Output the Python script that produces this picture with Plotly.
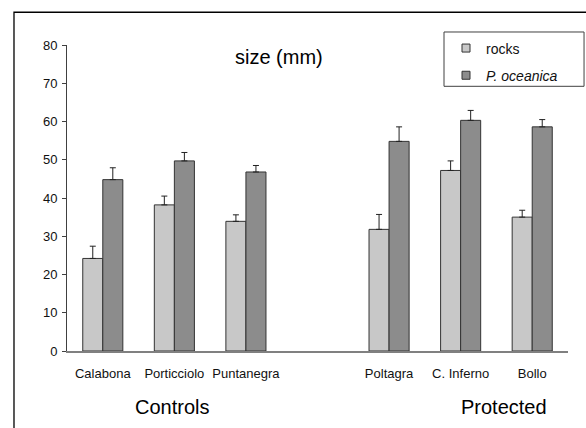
import plotly.graph_objects as go

categories = ["Calabona", "Porticciolo", "Puntanegra", " ", "Poltagra", "C. Inferno", "Bollo"]
rocks = [24.2, 38.2, 33.9, None, 31.8, 47.2, 35.0]
rocks_err = [3.2, 2.3, 1.7, None, 3.9, 2.5, 1.8]
posidonia = [44.8, 49.7, 46.8, None, 54.8, 60.3, 58.6]
posidonia_err = [3.1, 2.2, 1.7, None, 3.8, 2.6, 1.9]
tick_labels = ["Calabona", "Porticciolo", "Puntanegra", "", "Poltagra", "C. Inferno", "Bollo"]
yticks = [0, 10, 20, 30, 40, 50, 60, 70, 80]
series_names = ["rocks", "<i>P. oceanica</i>"]
series_colors = ["#c8c8c8", "#8c8c8c"]

FONT = "Liberation Sans Narrow, Arial Narrow, Liberation Sans, Arial, sans-serif"
FONT2 = "Liberation Sans, Arial, sans-serif"
EDGE = "#333333"

fig = go.Figure()
for vals, errs, name, col in [(rocks, rocks_err, series_names[0], series_colors[0]),
                              (posidonia, posidonia_err, series_names[1], series_colors[1])]:
    fig.add_trace(go.Bar(
        x=categories, y=vals, name=name, showlegend=False,
        marker=dict(color=col, line=dict(color=EDGE, width=1)),
        error_y=dict(type="data", array=errs, arrayminus=[0] * len(errs), symmetric=False,
                     color="#222222", thickness=1, width=3),
    ))
# legend keys (small squares like the original)
for i, (name, col) in enumerate(zip(series_names, series_colors)):
    fig.add_trace(go.Scatter(
        x=[None], y=[None], mode="markers", name=name, legendgroup=f"g{i}",
        marker=dict(symbol="square", size=8, color=col, line=dict(color=EDGE, width=1)),
        showlegend=True,
    ))

fig.update_layout(
    width=586, height=428,
    margin=dict(l=67, r=18, t=45, b=77, autoexpand=False),
    paper_bgcolor="white", plot_bgcolor="white",
    barmode="group", bargap=0.44, bargroupgap=0,
    showlegend=True,
    legend=dict(x=0.7565, y=1.041, xanchor="left", yanchor="top",
                bgcolor="rgba(0,0,0,0)", borderwidth=0,
                font=dict(family=FONT, size=14, color="#111111"),
                tracegroupgap=6, itemwidth=30),
    xaxis=dict(type="category", categoryorder="array", categoryarray=categories,
               tickvals=categories, ticktext=tick_labels,
               showline=True, linecolor="#808080", linewidth=2,
               ticks="", ticklabelstandoff=9,
               tickfont=dict(family=FONT, size=13, color="#111111"),
               showgrid=False, zeroline=False, fixedrange=True),
    yaxis=dict(range=[0, 80], tickvals=yticks, showline=True, linecolor="#404040", linewidth=1,
               ticks="outside", ticklen=4, tickcolor="#404040", ticklabelstandoff=2,
               tickfont=dict(family=FONT, size=13, color="#111111"),
               showgrid=False, zeroline=False, fixedrange=True),
    shapes=[
        dict(type="rect", xref="paper", yref="paper", x0=-0.1058, x1=1.2, y0=-0.5, y1=1.107,
             line=dict(color="black", width=1.3), fillcolor="rgba(0,0,0,0)", layer="below"),
        dict(type="rect", xref="paper", yref="paper", x0=0.7525, x1=1.032, y0=0.865, y1=1.0425,
             line=dict(color="#404040", width=1), fillcolor="rgba(0,0,0,0)"),
    ],
    annotations=[
        dict(text="size (mm)", xref="paper", yref="paper", x=0.423, y=0.96,
             xanchor="center", yanchor="middle",
             showarrow=False, font=dict(family=FONT2, size=20, color="black")),
        dict(text="Controls", xref="paper", yref="paper", x=0.2096, y=-0.184,
             xanchor="center", yanchor="middle",
             showarrow=False, font=dict(family=FONT2, size=20, color="black")),
        dict(text="Protected", xref="paper", yref="paper", x=0.872, y=-0.184,
             xanchor="center", yanchor="middle",
             showarrow=False, font=dict(family=FONT2, size=20, color="black")),
    ],
)

fig.write_html("out.html", config={"displayModeBar": False},
               post_script="document.body.style.margin='0';document.body.style.overflow='hidden';")
